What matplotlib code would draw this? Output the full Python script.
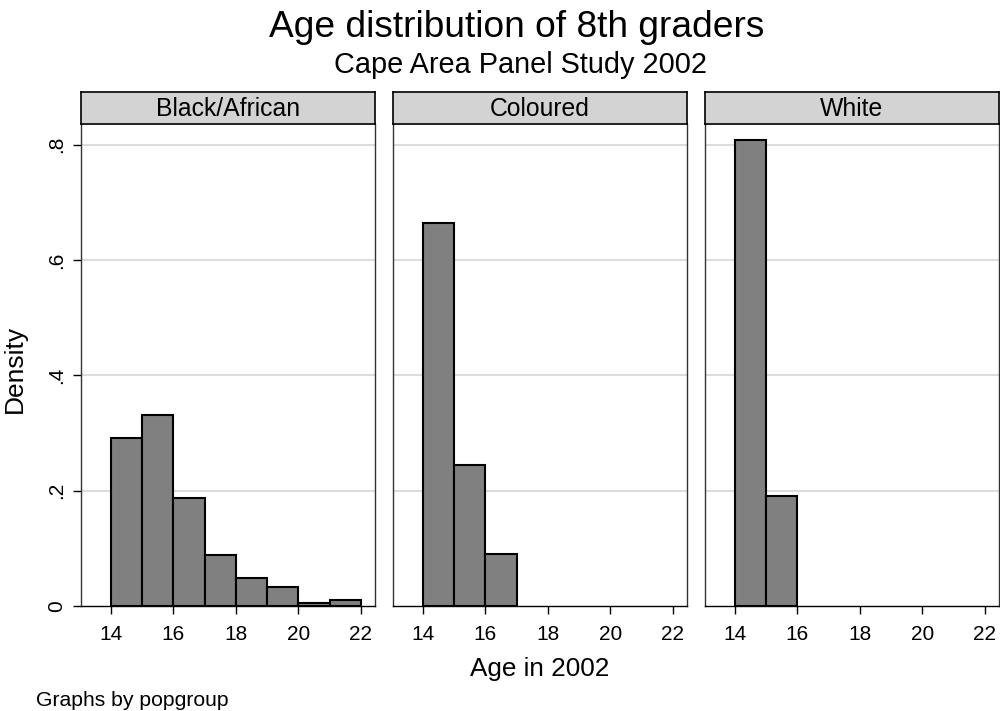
import matplotlib
matplotlib.use("Agg")
import matplotlib.pyplot as plt
import numpy as np

plt.rcParams["font.family"] = ["Liberation Sans", "DejaVu Sans"]

# Data (density per 1-year age bin)
bin_edges = [14, 15, 16, 17, 18, 19, 20, 21, 22]
groups = ["Black/African", "Coloured", "White"]
black_density = [0.292, 0.331, 0.187, 0.089, 0.049, 0.033, 0.005, 0.011]
coloured_density = [0.665, 0.245, 0.091, 0, 0, 0, 0, 0]
white_density = [0.809, 0.191, 0, 0, 0, 0, 0, 0]
densities = [black_density, coloured_density, white_density]

x_ticks = [14, 16, 18, 20, 22]
y_ticks = [0, 0.2, 0.4, 0.6, 0.8]
y_ticklabels = ["0", ".2", ".4", ".6", ".8"]

W, H = 1000, 711
fig = plt.figure(figsize=(10, 7.11), dpi=100)

lefts = [81, 393, 705]
pw = 294
top, bottom = 124, 606
strip_top = 92

for i, (name, dens) in enumerate(zip(groups, densities)):
    l = lefts[i]
    ax = fig.add_axes([l / W, 1 - bottom / H, pw / W, (bottom - top) / H])
    edges = np.array(bin_edges)
    heights = np.array(dens)
    keep = heights > 0
    ax.bar(edges[:-1][keep], heights[keep], width=1, align="edge",
           color="#808080", edgecolor="black", linewidth=1.5, zorder=3)
    ax.set_xlim(13.04, 22.45)
    ax.set_ylim(0, 0.836)
    for yv in y_ticks[1:]:
        ax.axhline(yv, color="#dcdcdc", linewidth=1.5, zorder=1)
    ax.spines["top"].set_visible(False)
    for s in ["left", "right"]:
        ax.spines[s].set_color("#333333")
        ax.spines[s].set_linewidth(1.0)
    ax.spines["bottom"].set_color("black")
    ax.spines["bottom"].set_linewidth(1.0)
    ax.set_xticks(x_ticks)
    ax.tick_params(axis="x", direction="out", length=5.5, width=1,
                   labelsize=15, pad=8)
    if i == 0:
        ax.set_yticks(y_ticks)
        ax.set_yticklabels(y_ticklabels, rotation=90, va="center")
        ax.tick_params(axis="y", direction="out", length=5.5, width=1,
                       labelsize=15, pad=5)
    else:
        ax.set_yticks([])

    sax = fig.add_axes([l / W, 1 - top / H, pw / W, (top - strip_top) / H])
    sax.set_facecolor("#d3d3d3")
    sax.set_xticks([])
    sax.set_yticks([])
    for s in sax.spines.values():
        s.set_color("black")
        s.set_linewidth(1.2)
    sax.text((l + pw / 2) / W, 1 - 116 / H, name, ha="center", va="baseline",
             fontsize=17.8, transform=fig.transFigure)

fig.text(517 / W, 1 - 37 / H, "Age distribution of 8th graders", ha="center",
         va="baseline", fontsize=26.7)
fig.text(520 / W, 1 - 73 / H, "Cape Area Panel Study 2002", ha="center",
         va="baseline", fontsize=20.8)
fig.text(540 / W, 1 - 676 / H, "Age in 2002", ha="center", va="baseline",
         fontsize=18.8)
fig.text(15 / W, 1 - 369 / H, "Density", ha="center", va="center",
         fontsize=19, rotation=90)
fig.text(36 / W, 1 - 706 / H, "Graphs by popgroup", ha="left", va="baseline",
         fontsize=15.2)

fig.savefig("out.png", dpi=100, facecolor="white")
